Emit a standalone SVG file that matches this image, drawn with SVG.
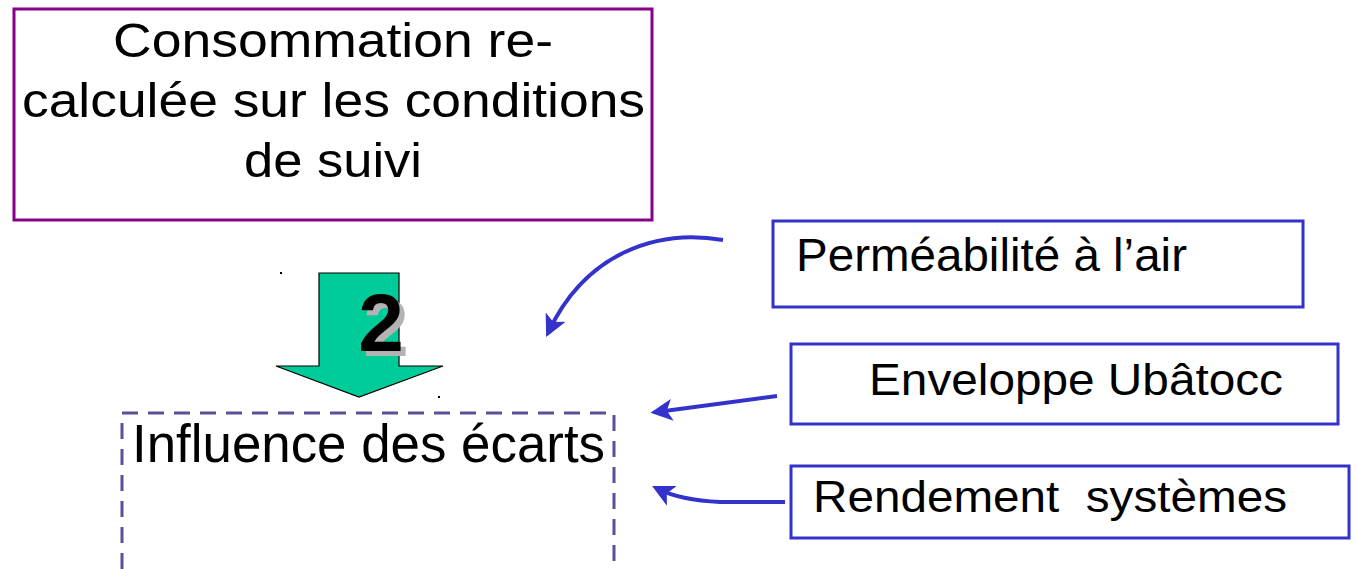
<svg xmlns="http://www.w3.org/2000/svg" width="1357" height="569" viewBox="0 0 1357 569">
  <style>
    .txt { font-family: "Liberation Sans", Arial, sans-serif; fill: #000; }
    .blue { fill: #fff; stroke: #3333cc; stroke-width: 3; }
    .link { fill: none; stroke: #3333cc; stroke-width: 4; }
  </style>
  <defs>
    <marker id="head" viewBox="0 0 10 10" refX="7" refY="5" markerWidth="5.5" markerHeight="5.5" orient="auto" markerUnits="strokeWidth">
      <path d="M0,0 L10,5 L0,10 L2.5,5 z" fill="#3333cc"/>
    </marker>
  </defs>
  <rect width="1357" height="569" fill="#fff"/>

  <g id="consommation">
    <rect x="14" y="9" width="638" height="211" fill="#fff" stroke="#880088" stroke-width="3"/>
    <text class="txt" font-size="48" x="113" y="57" textLength="440" lengthAdjust="spacingAndGlyphs">Consommation re-</text>
    <text class="txt" font-size="48" x="22" y="117" textLength="623" lengthAdjust="spacingAndGlyphs">calculée sur les conditions</text>
    <text class="txt" font-size="48" x="244" y="177" textLength="178" lengthAdjust="spacingAndGlyphs">de suivi</text>
  </g>

  <g id="step-arrow">
    <polygon points="319,273 399,273 399,366 443,366 359,397 276,366 319,366" fill="#00cc99" stroke="#000" stroke-width="1.2"/>
    <rect x="280" y="272" width="2" height="2" fill="#000"/>
    <rect x="438" y="396" width="2" height="2" fill="#000"/>
    <text class="txt" font-size="82" font-weight="bold" x="386" y="356" text-anchor="middle" style="fill:#b3b3b3">2</text>
    <text class="txt" font-size="82" font-weight="bold" x="381" y="351" text-anchor="middle">2</text>
  </g>

  <g id="influence">
    <path d="M122,569 V413 H614 V569" fill="none" stroke="#5b4f9a" stroke-width="3" stroke-dasharray="16 10"/>
    <text class="txt" font-size="53" x="132" y="462" textLength="473" lengthAdjust="spacingAndGlyphs">Influence des écarts</text>
  </g>

  <g id="permeabilite">
    <rect class="blue" x="773" y="221" width="530" height="86"/>
    <text class="txt" font-size="46" x="796" y="271" textLength="391" lengthAdjust="spacingAndGlyphs">Perméabilité à l’air</text>
  </g>

  <g id="enveloppe">
    <rect class="blue" x="791" y="344" width="547" height="80"/>
    <text class="txt" font-size="45" x="869" y="395" textLength="414" lengthAdjust="spacingAndGlyphs">Enveloppe Ubâtocc</text>
  </g>

  <g id="rendement">
    <rect class="blue" x="791" y="466" width="558" height="72"/>
    <text class="txt" font-size="45" x="813" y="512" textLength="474" lengthAdjust="spacingAndGlyphs" xml:space="preserve">Rendement  systèmes</text>
  </g>

  <g id="connectors">
    <path class="link" d="M723,240 C655,228 585,255 549,331" marker-end="url(#head)"/>
    <path class="link" d="M777,396 L657,412" marker-end="url(#head)"/>
    <path class="link" d="M785,502 L720,502 Q680,500 658,489" marker-end="url(#head)"/>
  </g>
</svg>
